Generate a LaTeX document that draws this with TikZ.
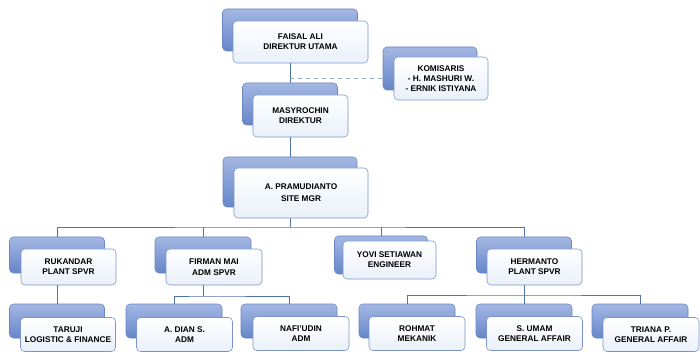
\documentclass[tikz,border=0pt]{standalone}
\usepackage{fontspec}
\setmainfont{Liberation Sans}[BoldFont={Liberation Sans Bold}]
\definecolor{backtop}{HTML}{A3B7E3}
\definecolor{backbot}{HTML}{6686C9}
\definecolor{backline}{HTML}{6A86C2}
\definecolor{frontline}{HTML}{7B93C9}
\definecolor{frontbot}{HTML}{EAF0FA}
\definecolor{linkc}{HTML}{5273A8}
\definecolor{tiec}{HTML}{9AAFCF}
\begin{document}
\begin{tikzpicture}[
  x=0.75pt,
  y=-0.75pt,
  boxsize/.style 2 args={minimum width=#1*0.75pt,minimum height=#2*0.75pt},
  back/.style={draw=backline,thin,rounded corners=3pt,top color=backtop,bottom color=backbot,inner sep=0pt},
  front/.style={draw=frontline,thin,rounded corners=3pt,top color=white,bottom color=frontbot,
    inner sep=0pt,align=center,text=black,font=\bfseries\fontsize{6.2}{7.5}\selectfont},
  link/.style={draw=linkc,line width=0.5pt},
  tie/.style={draw=tiec,dashed,line width=0.6pt}
]
  \useasboundingbox (0,0) rectangle (700,356);

  % top of the chart
  \node[back,boxsize={135}{42}] (faisal-b) at (290,30) {};
  \node[front,boxsize={135}{42}] (faisal) at (300.5,42) {FAISAL ALI\\DIREKTUR UTAMA};
  \node[back,boxsize={94}{43}] (kom-b) at (430,68.5) {};
  \node[front,boxsize={94}{43}] (kom) at (441,78.5) {KOMISARIS\\- H. MASHURI W.\\- ERNIK ISTIYANA};
  \node[back,boxsize={95}{42}] (masy-b) at (290,104) {};
  \node[front,boxsize={95}{42}] (masy) at (300.5,116) {MASYROCHIN\\DIREKTUR};
  \node[back,boxsize={134}{50}] (pram-b) at (290,182) {};
  \node[front,boxsize={134}{50},font=\bfseries\fontsize{6.2}{9}\selectfont] (pram) at (301,193) {A. PRAMUDIANTO\\SITE MGR};

  % supervisors
  \node[back,boxsize={95}{36}] (ruk-b) at (57,255) {};
  \node[front,boxsize={95}{36}] (ruk) at (68.5,267) {RUKANDAR\\PLANT SPVR};
  \node[back,boxsize={96}{36}] (firm-b) at (203,255) {};
  \node[front,boxsize={96}{36},font=\bfseries\fontsize{6.2}{8.5}\selectfont] (firm) at (214,267) {FIRMAN MAI\\ADM SPVR};
  \node[back,boxsize={93}{38}] (yovi-b) at (381,255) {};
  \node[front,boxsize={93}{38}] (yovi) at (389.5,260) {YOVI SETIAWAN\\ENGINEER};
  \node[back,boxsize={95}{36}] (herm-b) at (524,255) {};
  \node[front,boxsize={95}{36}] (herm) at (534.5,267) {HERMANTO\\PLANT SPVR};

  % staff
  \node[back,boxsize={95}{34}] (taru-b) at (57,321) {};
  \node[front,boxsize={95}{34}] (taru) at (68,334.5) {TARUJI\\LOGISTIC \& FINANCE};
  \node[back,boxsize={96}{34}] (dian-b) at (174,321) {};
  \node[front,boxsize={96}{34}] (dian) at (184.5,334.5) {A. DIAN S.\\ADM};
  \node[back,boxsize={96}{34}] (nafi-b) at (289,321) {};
  \node[front,boxsize={96}{34}] (nafi) at (301,333.5) {NAFI'UDIN\\ADM};
  \node[back,boxsize={96}{34}] (rohm-b) at (407,321) {};
  \node[front,boxsize={96}{34}] (rohm) at (417,333.5) {ROHMAT\\MEKANIK};
  \node[back,boxsize={96}{34}] (umam-b) at (524,321) {};
  \node[front,boxsize={96}{34}] (umam) at (534.5,333.5) {S. UMAM\\GENERAL AFFAIR};
  \node[back,boxsize={96}{34}] (tria-b) at (640,321) {};
  \node[front,boxsize={96}{34}] (tria) at (651,334.5) {TRIANA P.\\GENERAL AFFAIR};

  \coordinate (bus1) at (290,227);
  \coordinate (bus2) at (203,296);
  \coordinate (bus3) at (524,295);

  \draw[link] (faisal-b |- faisal.south) -- (masy-b.north);
  \draw[tie] (faisal-b |- kom.west) -- (kom-b.west |- kom.west);
  \draw[link] (masy-b |- masy.south) -- (pram-b.north);
  \draw[link] (pram-b |- pram.south) -- (bus1);
  \draw[link] (ruk-b.north) |- (bus1) -| (herm-b.north);
  \foreach \n in {firm,yovi} {
    \draw[link] (\n-b.north) -- (\n-b |- bus1);
  }
  \draw[link] (ruk-b |- ruk.south) -- (taru-b.north);
  \draw[link] (firm-b |- firm.south) -- (bus2);
  \draw[link] (dian-b.north) |- (bus2) -| (nafi-b.north);
  \draw[link] (herm-b |- herm.south) -- (bus3);
  \draw[link] (rohm-b.north) |- (bus3) -| (tria-b.north);
  \draw[link] (umam-b.north) -- (bus3);
\end{tikzpicture}
\end{document}
